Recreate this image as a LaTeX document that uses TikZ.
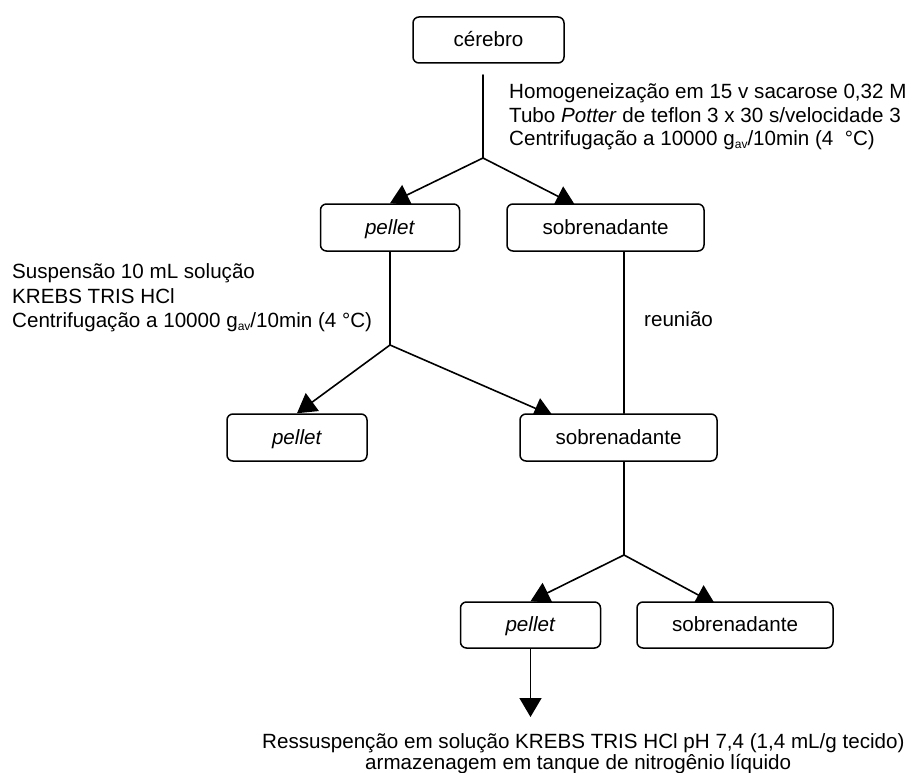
\documentclass[tikz,border=0pt]{standalone}
\usepackage{fontspec}
\setmainfont{Liberation Sans}
\usetikzlibrary{arrows.meta,backgrounds}
\newcommand{\gav}{g\raisebox{-3pt}{\fontsize{12}{12}\selectfont av}}
\begin{document}
\begin{tikzpicture}[x=1pt,y=-1pt,
  every node/.style={font=\fontsize{20.6}{24}\selectfont},
  box/.style={draw,line width=1.5pt,rounded corners=6pt,fill=white,inner sep=0pt,
    text height=15pt,text depth=2pt,minimum height=47pt},
  conn/.style={line width=1.6pt,line cap=round},
  arr/.style={line width=1.6pt,-{Triangle[length=19pt,width=22pt]}},
  lbl/.style={anchor=base west,inner sep=0pt}
]
\useasboundingbox (0,0) rectangle (913,773);

% boxes
\node[box,minimum width=151pt,minimum height=46pt] (cer) at (488.5,40) {cérebro};
\node[box,minimum width=139pt] (p1) at (390,227.5) {\textit{pellet}};
\node[box,minimum width=197pt] (s1) at (605.5,227.5) {sobrenadante};
\node[box,minimum width=140pt] (p2) at (297,437.5) {\textit{pellet}};
\node[box,minimum width=197pt] (s2) at (618.5,437.5) {sobrenadante};
\node[box,minimum width=140pt,minimum height=46pt] (p3) at (530.5,625) {\textit{pellet}};
\node[box,minimum width=196pt,minimum height=46pt] (s3) at (735,625) {sobrenadante};

% junctions and free ends
\coordinate (c0) at (483,75);
\coordinate (j1) at (483,158);
\coordinate (a1) at (575,205);
\coordinate (j2) at (390,345);
\coordinate (a2) at (553,416);
\coordinate (j3) at (624,555);
\coordinate (a3) at (715,604);
\coordinate (bt) at (530.5,717);

% labels
\node[lbl] (t1) at (509,99) {Homogeneização em 15 v sacarose 0,32 M};
\node[lbl] (t2) at (509,122.5) {Tubo \textit{Potter} de teflon 3 x 30 s/velocidade 3};
\node[lbl] (t3) at (509,146) {Centrifugação a 10000 \gav/10min (4~~°C)};
\node[lbl] (l1) at (12,278) {Suspensão 10 mL solução};
\node[lbl] (l2) at (12,303) {KREBS TRIS HCl};
\node[lbl] (l3) at (12,327) {Centrifugação a 10000 \gav/10min (4 °C)};
\node[lbl] (reu) at (644,326) {reunião};
\node[lbl] (b1) at (262,748) {Ressuspenção em solução KREBS TRIS HCl pH 7,4 (1,4 mL/g tecido)};
\node[lbl] (b2) at (365,769.5) {armazenagem em tanque de nitrogênio líquido};

% connectors
\begin{scope}[on background layer]
\draw[conn] (c0) -- (j1);
\draw[arr] (j1) -- (p1.north);
\draw[arr] (j1) -- (a1);
\draw[conn] (p1.south) -- (j2);
\draw[arr] (j2) -- (p2.north);
\draw[arr] (j2) -- (a2);
\draw[conn] (s1.south -| j3) -- (s2.north -| j3);
\draw[conn] (s2.south -| j3) -- (j3);
\draw[arr] (j3) -- (p3.north);
\draw[arr] (j3) -- (a3);
\draw[arr] (p3.south) -- (bt);
\end{scope}
\end{tikzpicture}
\end{document}
